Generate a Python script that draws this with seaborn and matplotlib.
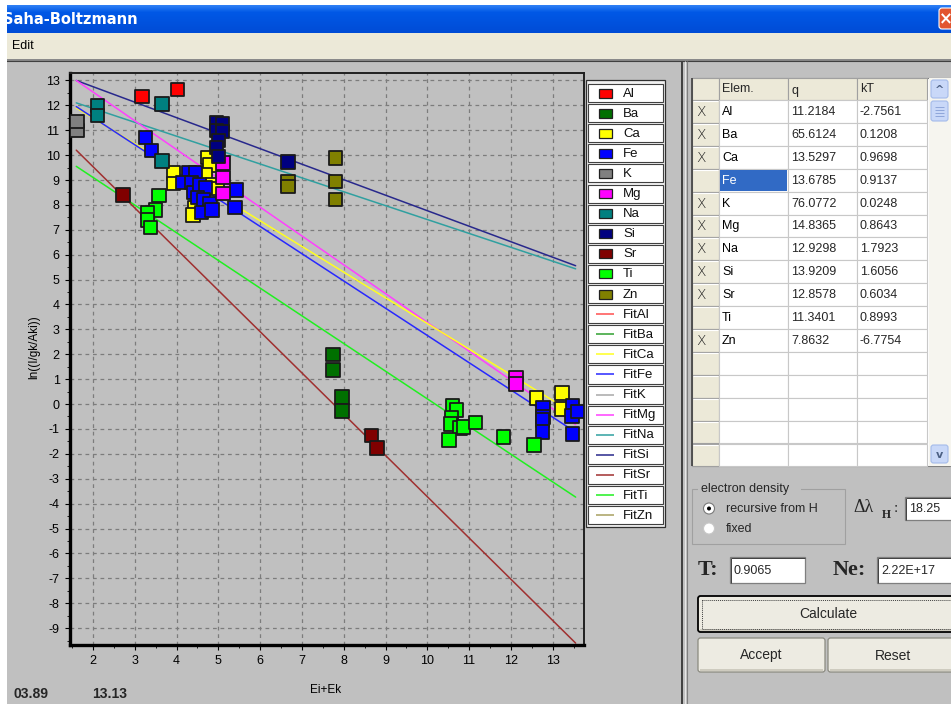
import numpy as np
import pandas as pd
import matplotlib
matplotlib.use("Agg")
import matplotlib.pyplot as plt
import seaborn as sns
from matplotlib.patches import Rectangle, Circle, FancyBboxPatch
from matplotlib.ticker import MultipleLocator

# ---------------- data ----------------
elements = ['Al', 'Ba', 'Ca', 'Fe', 'K', 'Mg', 'Na', 'Si', 'Sr', 'Ti', 'Zn']
el_colors = ['#FF0000', '#007000', '#FFFF00', '#0000FF', '#808080', '#FF00FF',
             '#008080', '#000080', '#800000', '#00FF00', '#808000']
fit_colors = ['#FF5050', '#30A030', '#FFFF20', '#2828FF', '#A8A8A8', '#FF40FF',
              '#30A0A0', '#28288C', '#A03030', '#20F020', '#A8A060']

al_x = [3.17, 4.03]
al_y = [12.35, 12.65]
ba_x = [7.74, 7.74, 7.96, 7.96]
ba_y = [2.0, 1.37, 0.28, -0.28]
ca_x = [3.92, 3.92, 4.75, 4.80, 4.68, 4.87, 4.97, 4.44, 4.39, 12.62, 13.22, 13.22]
ca_y = [9.28, 8.87, 9.90, 9.60, 9.20, 8.80, 8.67, 7.87, 7.60, 0.24, 0.44, -0.20]
fe_x = [3.25, 3.40, 4.30, 4.45, 4.15, 4.35, 4.40, 4.55, 4.70, 4.50, 4.65, 4.80,
        4.60, 4.85, 5.44, 5.40, 12.77, 12.77, 12.75, 12.75, 13.48, 13.46, 13.60, 13.48]
fe_y = [10.70, 10.20, 9.30, 9.28, 8.90, 8.90, 8.50, 8.80, 8.70, 8.30, 8.20, 8.07,
        7.70, 7.80, 8.60, 7.90, -0.16, -0.52, -0.64, -1.12, -0.08, -0.48, -0.30, -1.20]
k_x = [1.62, 1.62]
k_y = [11.0, 11.35]
mg_x = [5.11, 5.11, 5.11, 12.12, 12.12]
mg_y = [9.68, 9.10, 8.47, 1.08, 0.80]
na_x = [2.10, 2.10, 3.65, 3.65]
na_y = [12.0, 11.6, 12.05, 9.76]
si_x = [4.95, 5.10, 4.95, 5.10, 5.00, 4.95, 5.00, 6.67]
si_y = [11.30, 11.25, 11.00, 10.95, 10.60, 10.30, 9.95, 9.72]
sr_x = [2.72, 8.67, 8.80]
sr_y = [8.40, -1.25, -1.77]
ti_x = [3.58, 3.50, 3.30, 3.30, 3.37, 10.60, 10.70, 10.58, 10.55, 10.78, 10.86,
        11.16, 10.52, 11.83, 12.55]
ti_y = [8.39, 7.80, 7.70, 7.40, 7.10, -0.08, -0.24, -0.56, -0.80, -0.96, -0.92,
        -0.73, -1.45, -1.33, -1.65]
zn_x = [6.67, 6.67, 7.81, 7.81, 7.81]
zn_y = [8.92, 8.75, 9.88, 8.95, 8.23]

# table values
q_vals = ['11.2184', '65.6124', '13.5297', '13.6785', '76.0772', '14.8365',
          '12.9298', '13.9209', '12.8578', '11.3401', '7.8632']
kt_vals = ['-2.7561', '0.1208', '0.9698', '0.9137', '0.0248', '0.8643',
           '1.7923', '1.6056', '0.6034', '0.8993', '-6.7754']
excluded = [True, True, True, False, True, True, True, True, True, False, True]

# fitted lines drawn in the plot: value at the start energy and slope -1/kT
fit_elements = ['Si', 'Na', 'Mg', 'Ca', 'Fe', 'Ti', 'Sr']
fit_start_val = [13.0, 12.1, 13.0, 11.9, 11.95, 9.55, 10.2]
fit_e_range = [1.6, 13.55]

x_ticks = list(range(2, 14))
y_ticks = list(range(-9, 14))

# ---------------- build frames ----------------
pts = {'Al': (al_x, al_y), 'Ba': (ba_x, ba_y), 'Ca': (ca_x, ca_y), 'Fe': (fe_x, fe_y),
       'K': (k_x, k_y), 'Mg': (mg_x, mg_y), 'Na': (na_x, na_y), 'Si': (si_x, si_y),
       'Sr': (sr_x, sr_y), 'Ti': (ti_x, ti_y), 'Zn': (zn_x, zn_y)}
rows = []
for el in elements:
    xs, ys = pts[el]
    for a, b in zip(xs, ys):
        rows.append((a, b, el))
df = pd.DataFrame(rows, columns=['E', 'lnI', 'element'])

kt_map = dict(zip(elements, [float(v) for v in kt_vals]))
lrows = []
for el, v0 in zip(fit_elements, fit_start_val):
    for e in fit_e_range:
        lrows.append((e, v0 - (e - fit_e_range[0]) / kt_map[el], 'Fit' + el))
dfl = pd.DataFrame(lrows, columns=['E', 'lnI', 'fit'])

pal_pts = dict(zip(elements, el_colors))
pal_fit = {'Fit' + e: c for e, c in zip(elements, fit_colors)}

# ---------------- figure ----------------
sns.set_theme(style='ticks')
plt.rcParams['font.family'] = ['Liberation Sans', 'DejaVu Sans']
plt.rcParams['axes.unicode_minus'] = False
GRAY = '#C0C0C0'
BEIGE = '#ECE9D8'

fig = plt.figure(figsize=(9.51, 7.04), dpi=100, facecolor=GRAY)
bg = fig.add_axes([0, 0, 1, 1], zorder=0)
bg.set_xlim(0, 951)
bg.set_ylim(704, 0)
bg.axis('off')
bg.set_facecolor(GRAY)


def R(x0, y0, x1, y1, fc='none', ec='none', lw=0.72, z=1, **kw):
    bg.add_patch(Rectangle((x0, y0), x1 - x0, y1 - y0, facecolor=fc,
                           edgecolor=ec, linewidth=lw, zorder=z, **kw))


def L(xs, ys, c, lw=0.72, z=2, **kw):
    bg.plot(xs, ys, color=c, lw=lw, zorder=z, solid_capstyle='butt', **kw)


# body
R(0, 0, 951, 704, fc=GRAY, z=0)
# title bar gradient
n = 28
top = np.array([0x2E, 0x7F, 0xF5]) / 255
mid = np.array([0x00, 0x58, 0xE6]) / 255
bot = np.array([0x00, 0x4C, 0xD6]) / 255
grad = np.zeros((n, 1, 3))
for i in range(n):
    t = i / (n - 1)
    if t < 0.25:
        grad[i, 0] = top + (mid - top) * (t / 0.25)
    else:
        grad[i, 0] = mid + (bot - mid) * ((t - 0.25) / 0.75)
bg.imshow(grad, extent=(0, 951, 33, 5), aspect='auto', interpolation='bilinear', zorder=1)
R(0, 0, 951, 5, fc='white', z=1.5)
bg.text(3, 19.5, 'Saha-Boltzmann', color='white', fontweight='bold', fontsize=10.5,
        va='center', ha='left', family='DejaVu Sans', zorder=2)
# close button
bg.add_patch(FancyBboxPatch((939, 8), 20, 21, boxstyle='round,pad=0,rounding_size=3',
                            fc='#E2552F', ec='white', lw=0.8, zorder=3))
bg.text(946, 19, '×', color='white', fontsize=12, fontweight='bold', ha='center',
        va='center', zorder=4, family='DejaVu Sans')
# menu bar
R(0, 33, 951, 59, fc=BEIGE, z=1)
bg.text(12, 46, 'Edit', fontsize=9, va='center', ha='left', color='black', zorder=2)
L([0, 951], [59.5, 59.5], '#808080', lw=1.2)
L([0, 951], [61, 61], '#404040', lw=0.8)
# left white strip (outside of window)
R(0, 0, 7, 704, fc='white', z=5)

# vertical divider
L([682, 682], [61, 704], '#404040', lw=1.4, z=3)
L([685, 685], [61, 704], '#E8E8E8', lw=0.8, z=3)
L([687, 687], [61, 704], '#808080', lw=0.8, z=3)

# ---------------- plot ----------------
px0, px1, py0, py1 = 70, 584, 73, 645
ax = fig.add_axes([px0 / 951, (704 - py1) / 704, (px1 - px0) / 951, (py1 - py0) / 704], zorder=2)
ax.set_facecolor(GRAY)
ax.set_axisbelow(True)
sns.lineplot(data=dfl, x='E', y='lnI', hue='fit', palette=pal_fit, units='fit',
             estimator=None, legend=False, ax=ax, lw=1.1, zorder=2)
sns.scatterplot(data=df, x='E', y='lnI', hue='element', palette=pal_pts, marker='s',
                s=92, edgecolor='#1A1A1A', linewidth=1.3, legend=False, ax=ax, zorder=3)
ax.set_xlim(1.45, 13.75)
ax.set_ylim(-9.68, 13.3)
ax.set_xticks(x_ticks)
ax.set_yticks(y_ticks)
ax.xaxis.set_minor_locator(MultipleLocator(0.5))
ax.yaxis.set_minor_locator(MultipleLocator(0.5))
ax.grid(True, which='major', color='#7C7C7C', linestyle=(0, (3, 3)), lw=0.9)
ax.tick_params(which='major', direction='out', length=3.5, width=0.8, color='black',
               labelsize=9, pad=4, labelcolor='black')
ax.tick_params(which='minor', direction='out', length=2, width=0.6, color='black')
for s in ['left', 'bottom']:
    ax.spines[s].set_linewidth(2.4)
    ax.spines[s].set_color('black')
for s in ['top', 'right']:
    ax.spines[s].set_linewidth(1.4)
    ax.spines[s].set_color('#202020')
ax.set_xlabel('Ei+Ek', fontsize=8.5, color='black')
ax.set_ylabel('ln((I/gk/Aki))', fontsize=8.5, color='black')
ax.xaxis.set_label_coords(0.498, -0.068)
ax.yaxis.set_label_coords(-0.058, 0.52)

bg.text(13, 694, '03.89', fontsize=10, fontweight='bold', va='center', ha='left', zorder=2)
bg.text(92, 694, '13.13', fontsize=10, fontweight='bold', va='center', ha='left', zorder=2)

# ---------------- legend ----------------
lx0, lx1, ly0, rh = 587, 664, 83, 20.1
entries = [(e, c, 'pt') for e, c in zip(elements, el_colors)] + \
          [('Fit' + e, c, 'ln') for e, c in zip(elements, fit_colors)]
R(lx0 - 1, ly0 - 3, lx1 + 1, ly0 + rh * len(entries) + 2, fc='#F0F0F0', ec='#303030', lw=0.9, z=2)
for i, (lab, c, kind) in enumerate(entries):
    yt = ly0 + i * rh
    R(lx0 + 1, yt + 1, lx1 - 1, yt + rh - 1, fc='white', ec='#404040', lw=0.8, z=3)
    yc = yt + rh / 2
    if kind == 'pt':
        R(599, yc - 4.5, 612, yc + 4.5, fc=c, ec='#202020', lw=0.9, z=4)
    else:
        L([596, 614], [yc, yc], c, lw=1.1, z=4)
    bg.text(623, yc + 0.5, lab, fontsize=9.5, va='center', ha='left', color='#101010', zorder=4)

# ---------------- table ----------------
tx = [692, 719, 788, 857, 927]
ty0, hdr, trh, nrows = 78, 100, 22.9, 16
R(tx[0], ty0, 950, 466, fc='white', ec='#808080', lw=0.8, z=2)
# header
for j in range(4):
    R(tx[j], ty0, tx[j + 1], hdr, fc=BEIGE, ec='#A0A0A0', lw=0.8, z=3)
bg.text(722, 89.5, 'Elem.', fontsize=9, va='center', ha='left', zorder=4)
bg.text(791, 91, 'q', fontsize=9, va='center', ha='left', zorder=4)
bg.text(860, 89.5, 'kT', fontsize=9, va='center', ha='left', zorder=4)
for i in range(nrows):
    y0 = hdr + i * trh
    y1 = y0 + trh
    R(tx[0], y0, tx[1], y1, fc=BEIGE, ec='#A0A0A0', lw=0.8, z=3)
    L([tx[0] + 1, tx[1] - 1], [y0 + 1, y0 + 1], 'white', lw=0.8, z=3.5)
    for j in range(1, 4):
        R(tx[j], y0, tx[j + 1], y1, fc='white', ec='#C8C8C8', lw=0.8, z=3)
    if i < len(elements):
        yc = y0 + trh / 2 + 0.5
        sel = elements[i] == 'Fe'
        if sel:
            R(tx[1] + 1, y0 + 1, tx[2] - 1, y1 - 1, fc='#316AC5', z=3.6)
        bg.text(722, yc, elements[i], fontsize=9, va='center', ha='left', zorder=4,
                color='white' if sel else 'black')
        bg.text(791, yc, q_vals[i], fontsize=9, va='center', ha='left', zorder=4)
        bg.text(860, yc, kt_vals[i], fontsize=9, va='center', ha='left', zorder=4)
        if excluded[i]:
            bg.text(701, yc, 'X', fontsize=10, va='center', ha='center', zorder=4,
                    color='#202020', fontweight='light', family='DejaVu Sans')
L([tx[0], tx[0]], [ty0, 466], '#404040', lw=1.2, z=4)
# scrollbar
R(929, ty0, 951, 466, fc='#F6F5EF', z=3)
for yb0, glyph in [(80, '^'), (445, 'v')]:
    bg.add_patch(FancyBboxPatch((931, yb0), 17, 18, boxstyle='round,pad=0,rounding_size=2.5',
                                fc='#C9D8F8', ec='#A4BBEA', lw=0.8, zorder=4))
    bg.text(939.5, yb0 + 9.5, glyph, fontsize=8, fontweight='bold', ha='center', va='center',
            color='#4D6185', zorder=5, family='DejaVu Sans')
bg.add_patch(FancyBboxPatch((931, 101), 17, 20, boxstyle='round,pad=0,rounding_size=2.5',
                            fc='#C9D8F8', ec='#A4BBEA', lw=0.8, zorder=4))
for yy in [107, 110, 113, 116]:
    L([935, 944], [yy, yy], '#8FA6DA', lw=0.7, z=5)

# ---------------- controls ----------------
# group box
R(692, 489, 845, 544, ec='#A0A0A0', lw=0.8, z=2)
R(698, 482, 801, 494, fc=GRAY, z=2.5)
bg.text(701, 489, 'electron density', fontsize=9, va='center', ha='left', zorder=3)
bg.add_patch(Circle((709, 508.5), 5.5, fc='white', ec='#7A7A7A', lw=0.8, zorder=3))
bg.add_patch(Circle((709, 508.5), 2.0, fc='black', ec='none', zorder=4))
bg.add_patch(Circle((709, 528.5), 5.5, fc='white', ec='#C8C8C8', lw=0.8, zorder=3))
bg.text(726, 508.5, 'recursive from H', fontsize=9, va='center', ha='left', zorder=3)
bg.text(726, 528.5, 'fixed', fontsize=9, va='center', ha='left', zorder=3)

bg.text(853, 508, 'Δλ', fontsize=13, va='center', ha='left', family='Liberation Serif', zorder=3)
bg.text(882, 515, 'H', fontsize=8.5, fontweight='bold', va='center', ha='left',
        family='Liberation Serif', zorder=3)
bg.text(894, 508, ':', fontsize=11, va='center', ha='left', family='Liberation Serif', zorder=3)


def tbox(x0, y0, x1, y1, txt):
    R(x0, y0, x1, y1, fc='white', ec='#7F7F7F', lw=0.9, z=3)
    L([x0 + 1, x1], [y0 + 1, y0 + 1], '#404040', lw=0.7, z=3.5)
    L([x0 + 1, x0 + 1], [y0 + 1, y1], '#404040', lw=0.7, z=3.5)
    bg.text(x0 + 4, (y0 + y1) / 2 + 0.5, txt, fontsize=9, va='center', ha='left', zorder=4)


tbox(905, 497, 955, 520, '18.25')
bg.text(698, 570, 'T:', fontsize=16, fontweight='bold', va='center', ha='left',
        family='Liberation Serif', zorder=3)
tbox(730, 557, 805, 583, '0.9065')
bg.text(833, 570, 'Ne:', fontsize=16, fontweight='bold', va='center', ha='left',
        family='Liberation Serif', zorder=3)
tbox(877, 557, 955, 583, '2.22E+17')


def button(x0, y0, x1, y1, txt, focus=False):
    bg.add_patch(FancyBboxPatch((x0, y0), x1 - x0, y1 - y0,
                                boxstyle='round,pad=0,rounding_size=2.5',
                                fc='#EDEBE2', ec='black' if focus else '#8A8A80',
                                lw=1.3 if focus else 0.9, zorder=3))
    L([x0 + 2, x1 - 2], [y1 - 2, y1 - 2], '#C8C5B8', lw=1.2, z=3.5)
    if focus:
        R(x0 + 3.5, y0 + 3.5, x1 - 3.5, y1 - 3.5, ec='#404040', lw=0.7,
          linestyle=(0, (1, 1)), z=3.6)
    bg.text((x0 + x1) / 2, (y0 + y1) / 2 + 0.5, txt, fontsize=10, va='center',
            ha='center', zorder=4)


button(698, 596, 958, 632, 'Calculate', focus=True)
button(698, 638, 825, 672, 'Accept')
button(828, 638, 958, 672, 'Reset')

fig.savefig('out.png', dpi=100, facecolor=GRAY)
